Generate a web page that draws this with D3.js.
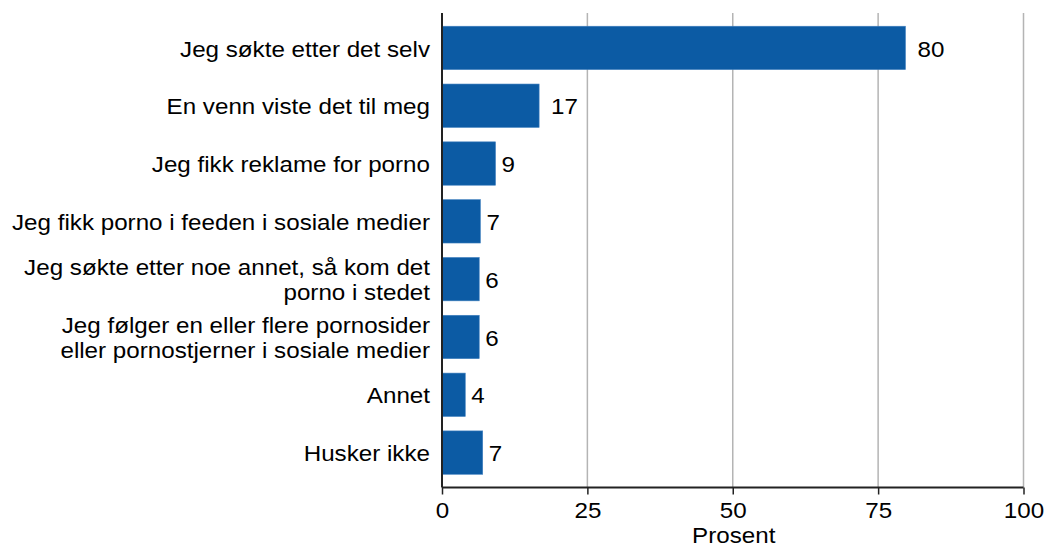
<!DOCTYPE html>
<html><head><meta charset="utf-8">
<script src="https://cdn.jsdelivr.net/npm/d3@7"></script>
<style>body{margin:0;background:#fff}svg{display:block}text{font-family:"Liberation Sans",Arial,sans-serif;fill:#000}</style>
</head><body><svg id="c" width="1044" height="547"></svg>
<script>
const categories = [
  ["Jeg søkte etter det selv"],
  ["En venn viste det til meg"],
  ["Jeg fikk reklame for porno"],
  ["Jeg fikk porno i feeden i sosiale medier"],
  ["Jeg søkte etter noe annet, så kom det", "porno i stedet"],
  ["Jeg følger en eller flere pornosider", "eller pornostjerner i sosiale medier"],
  ["Annet"],
  ["Husker ikke"]
];
const values = [79.7, 16.7, 9.2, 6.6, 6.4, 6.4, 4.0, 7.0];
const valueLabels = ["80", "17", "9", "7", "6", "6", "4", "7"];
const xTicks = [0, 25, 50, 75, 100];
const xTitle = "Prosent";

const FS = 21.5, SX = 1.125;
const svg = d3.select("#c");
const x = d3.scaleLinear().domain([0, 100]).range([442, 1023.5]);
const idx = d3.range(categories.length);
const y = d3.scaleBand().domain(idx).range([19, 481.5]).paddingInner(0.25).paddingOuter(0.125);
const plotTop = 13, plotBottom = 487.5;
const place = (px, py) => `translate(${px},${py}) scale(${SX},1)`;

// gridlines
svg.append("g").selectAll("line").data(xTicks.filter(d => d > 0)).join("line")
  .attr("x1", d => x(d)).attr("x2", d => x(d)).attr("y1", plotTop).attr("y2", plotBottom)
  .attr("stroke", "#b4b4b4").attr("stroke-width", 1.5);

// bars
svg.append("g").selectAll("rect").data(idx).join("rect")
  .attr("x", x(0)).attr("y", i => y(i)).attr("width", i => x(values[i]) - x(0))
  .attr("height", y.bandwidth()).attr("fill", "#0c5ba4")
  .attr("stroke", "#3f7fbf").attr("stroke-width", 0.6);

// value labels
svg.append("g").selectAll("text").data(idx).join("text")
  .attr("transform", i => place(x(values[i]) + 6 * valueLabels[i].length, y(i) + y.bandwidth() / 2))
  .attr("dy", "0.4em").attr("font-size", FS)
  .text(i => valueLabels[i]);

// y axis
const yAxis = svg.append("g").attr("transform", `translate(${x(0)},0)`)
  .call(d3.axisLeft(y).tickSize(0).tickFormat(""));
yAxis.select(".domain").attr("d", `M0,${plotTop}V${plotBottom}`).attr("stroke", "#222").attr("stroke-width", 2);
const cat = svg.append("g");
idx.forEach(i => {
  const lines = categories[i];
  const cy = y(i) + y.bandwidth() / 2;
  const lh = 25;
  lines.forEach((t, j) => {
    cat.append("text").attr("text-anchor", "end")
      .attr("transform", place(430, cy + (j - (lines.length - 1) / 2) * lh))
      .attr("dy", "0.4em").attr("font-size", FS).text(t);
  });
});

// x axis
const xAxis = svg.append("g").attr("transform", `translate(0,${plotBottom})`)
  .call(d3.axisBottom(x).tickValues(xTicks).tickSize(7).tickPadding(8).tickFormat(d3.format("d")));
xAxis.select(".domain").attr("d", `M${x(0)},0H${x(100)}`).attr("stroke", "#222").attr("stroke-width", 2);
xAxis.selectAll(".tick line").attr("stroke", "#222").attr("stroke-width", 1.5);
xAxis.selectAll(".tick text").attr("font-size", FS).attr("font-family", "Liberation Sans, Arial, sans-serif")
  .attr("fill", "#000").attr("y", null).attr("dy", "0.71em").attr("transform", place(0, 15));

svg.append("text").attr("text-anchor", "middle")
  .attr("transform", place((x(0) + x(100)) / 2 + 1, 543))
  .attr("font-size", FS).text(xTitle);
</script></body></html>
